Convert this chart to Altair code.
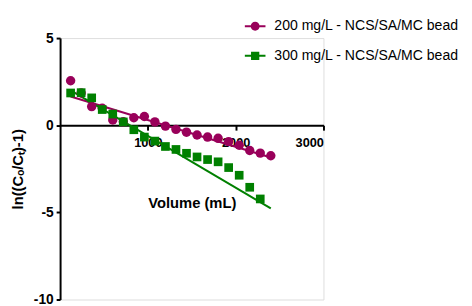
import altair as alt
import pandas as pd

# ---- data ----
vol_200 = [120, 240, 360, 480, 600, 720, 840, 960, 1080, 1200,
           1320, 1440, 1560, 1680, 1800, 1920, 2040, 2160, 2280, 2400]
ln_200 = [2.55, 1.85, 1.07, 0.97, 0.30, 0.20, 0.43, 0.50, 0.19, -0.05,
          -0.24, -0.40, -0.56, -0.68, -0.75, -0.94, -1.15, -1.45, -1.60, -1.75]

vol_300 = [120, 240, 360, 480, 600, 720, 840, 960, 1080, 1200,
           1320, 1440, 1560, 1680, 1800, 1920, 2040, 2160, 2280]
ln_300 = [1.85, 1.87, 1.57, 0.90, 0.64, 0.19, -0.26, -0.68, -0.91, -1.22,
          -1.39, -1.61, -1.82, -1.97, -2.10, -2.43, -2.87, -3.56, -4.23]

fit_vol = [120, 2400]
fit_200 = [1.65, -1.85]
fit_300 = [2.0, -4.77]

label_200 = "200 mg/L - NCS/SA/MC bead"
label_300 = "300 mg/L - NCS/SA/MC bead"

x_ticks = [1000, 2000, 3000]
y_ticks = [-10, -5, 0, 5]

purple = "#99005A"
green = "#008000"

FONT = "Liberation Sans, Arial, sans-serif"

df200 = pd.DataFrame({"v": vol_200, "y": ln_200, "s": label_200})
df300 = pd.DataFrame({"v": vol_300, "y": ln_300, "s": label_300})
fit200 = pd.DataFrame({"v": fit_vol, "y": fit_200})
fit300 = pd.DataFrame({"v": fit_vol, "y": fit_300})

W, H = 268, 266

x_scale = alt.Scale(domain=[0, 3000], nice=False, zero=False)
y_scale = alt.Scale(domain=[-10, 5], nice=False, zero=False)

x_axis = alt.Axis(
    values=x_ticks, offset=-(H * 10 / 15), title="Volume (mL)",
    labelExpr="'' + datum.value",
    domainColor="black", domainWidth=2, tickColor="black", tickWidth=2,
    tickSize=5, labelFont=FONT, labelFontSize=13, labelFontWeight="bold",
    labelColor="black", labelPadding=7, grid=False,
    titleFont=FONT, titleFontSize=15, titleFontWeight="bold", titleColor="black",
    titleY=79, titleBaseline="middle",
)
y_axis = alt.Axis(
    values=y_ticks, title="ln((Cₒ/Cₜ)-1)",
    labelExpr="'' + datum.value",
    domainColor="black", domainWidth=2, tickColor="black", tickWidth=2,
    tickSize=4, labelFont=FONT, labelFontSize=14, labelFontWeight="bold",
    labelColor="black", labelPadding=3, grid=False,
    titleFont=FONT, titleFontSize=15, titleFontWeight="bold", titleColor="black",
    titleX=-43, titleBaseline="middle",
)

circle_path = ("M-1,-0.1L1,-0.1L1,0.1L-1,0.1Z"
               "M-0.43,0A0.43,0.43 0 1,1 0.43,0A0.43,0.43 0 1,1 -0.43,0Z")
square_path = ("M-1,-0.1L1,-0.1L1,0.1L-1,0.1Z"
               "M-0.4,-0.4L0.4,-0.4L0.4,0.4L-0.4,0.4Z")


def legend(path, ly):
    return alt.Legend(
        orient="none", legendX=188, legendY=ly, padding=0,
        symbolType=path, symbolSize=441, symbolStrokeWidth=0,
        labelFont=FONT, labelFontSize=14.3, labelColor="black", labelOffset=9,
        labelLimit=400,
    )


pts200 = alt.Chart(df200).mark_point(
    shape="circle", filled=True, size=92, opacity=1
).encode(
    x=alt.X("v:Q", scale=x_scale, axis=x_axis),
    y=alt.Y("y:Q", scale=y_scale, axis=y_axis),
    color=alt.Color("s:N", scale=alt.Scale(domain=[label_200], range=[purple]),
                    legend=legend(circle_path, -22.5), title=None),
)
line200 = alt.Chart(fit200).mark_line(color=purple, strokeWidth=2).encode(
    x=alt.X("v:Q", scale=x_scale), y=alt.Y("y:Q", scale=y_scale)
)
pts300 = alt.Chart(df300).mark_point(
    shape="square", filled=True, size=78, opacity=1
).encode(
    x=alt.X("v:Q", scale=x_scale),
    y=alt.Y("y:Q", scale=y_scale),
    color=alt.Color("s:N", scale=alt.Scale(domain=[label_300], range=[green]),
                    legend=legend(square_path, 7.5), title=None),
)
line300 = alt.Chart(fit300).mark_line(color=green, strokeWidth=2).encode(
    x=alt.X("v:Q", scale=x_scale), y=alt.Y("y:Q", scale=y_scale)
)

chart = alt.layer(line200, line300, pts200, pts300).resolve_scale(
    color="independent"
).properties(
    width=W, height=H,
    autosize=alt.AutoSizeParams(type="none"),
    padding={"left": 53, "top": 28, "right": 143, "bottom": 4},
).configure_view(stroke=None).configure(background="white")

chart.save("out.html", embed_options={"renderer": "svg", "actions": False})
